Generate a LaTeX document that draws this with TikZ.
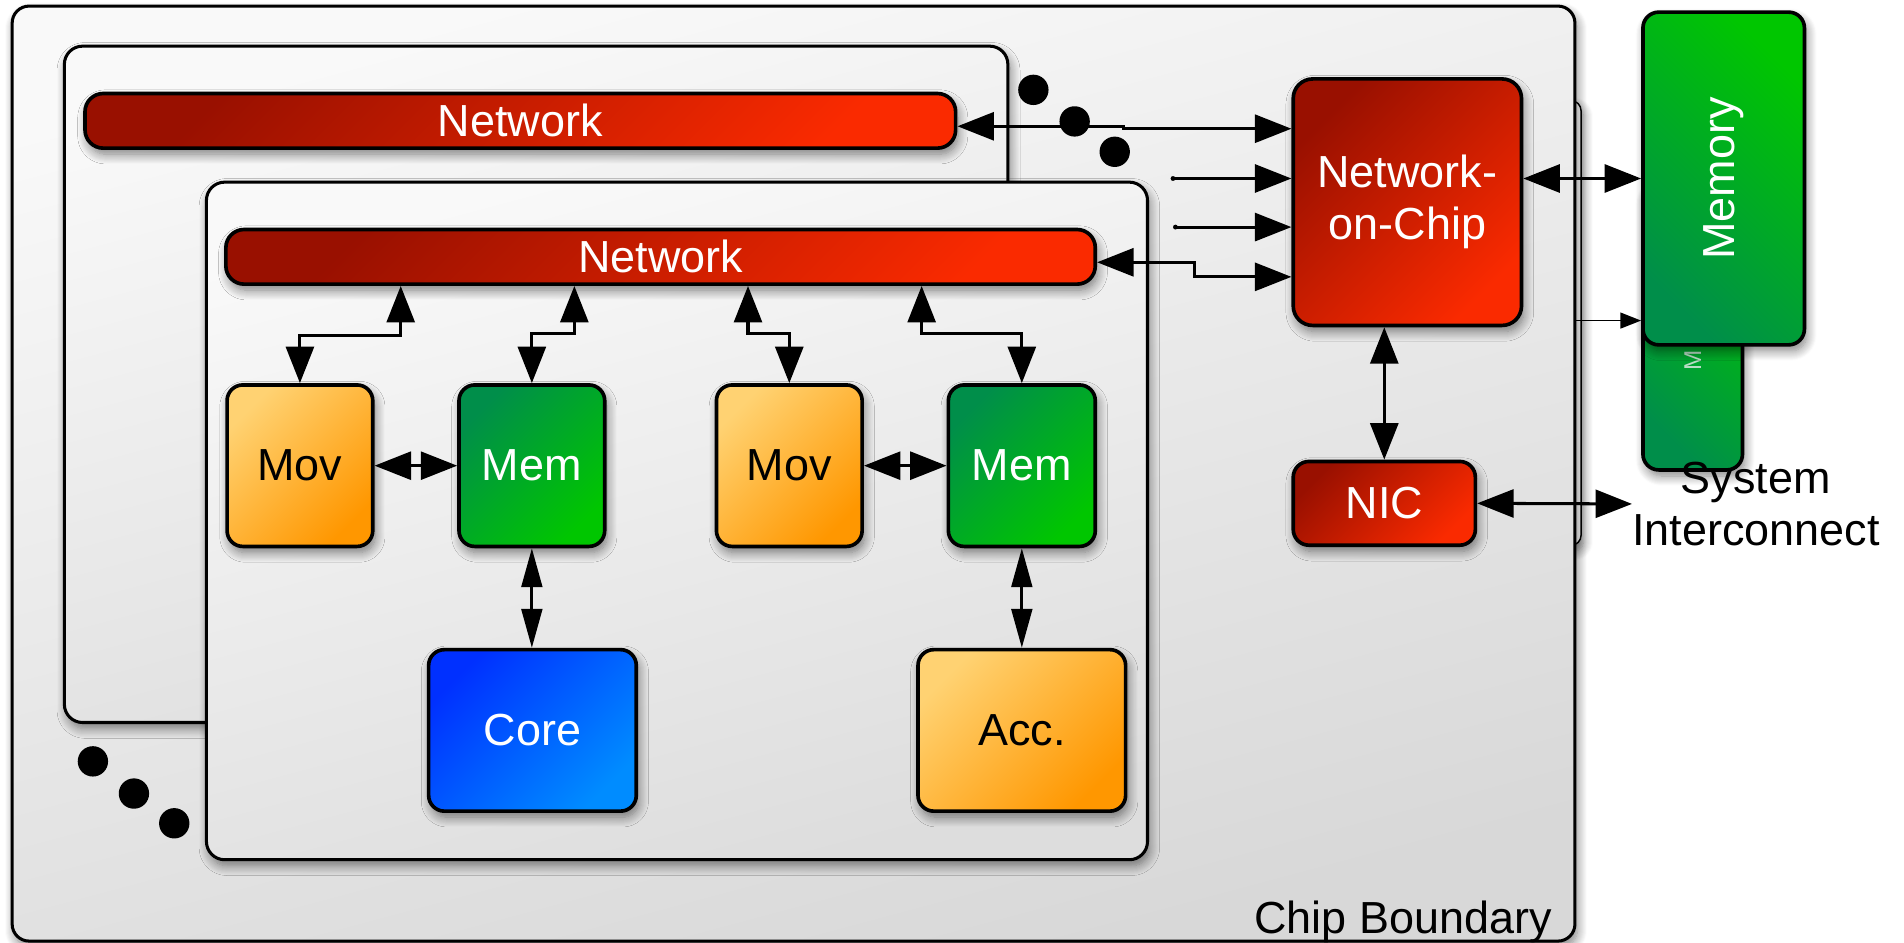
\documentclass[tikz,border=0pt]{standalone}
\usepackage{fontspec}
\setmainfont{Liberation Sans}
\usetikzlibrary{arrows.meta,shadows.blur}
\definecolor{redA}{HTML}{991000}
\definecolor{redB}{HTML}{FA2A00}
\definecolor{orA}{HTML}{FFD272}
\definecolor{orB}{HTML}{FF9700}
\definecolor{grA}{HTML}{008E4A}
\definecolor{grB}{HTML}{00C600}
\definecolor{blA}{HTML}{0030FF}
\definecolor{blB}{HTML}{008CFF}
\definecolor{bgA}{HTML}{F9F9F9}
\definecolor{bgB}{HTML}{D8D8D8}
\definecolor{tlA}{HTML}{F9F9F9}
\definecolor{tlB}{HTML}{DDDDDD}
\definecolor{faintM}{HTML}{B9DCC6}
\tikzset{
  bigtext/.style={font=\fontsize{37}{43}\selectfont},
  shad/.style={blur shadow={shadow xshift=2pt, shadow yshift=-5pt, shadow blur radius=8pt, shadow blur steps=10, shadow opacity=50}},
  blk/.style={draw=black, line width=3pt, rounded corners=13pt, inner sep=0pt, shad, bigtext, align=center},
  redbox/.style={blk, top color=redA, bottom color=redB, shading angle=45, text=white},
  orbox/.style={blk, top color=orA, bottom color=orB, shading angle=45, text=black},
  grbox/.style={blk, top color=grA, bottom color=grB, shading angle=45, text=white},
  memrot/.style={blk, top color=grB, bottom color=grA, shading angle=-45, text=white},
  blbox/.style={blk, top color=blA, bottom color=blB, shading angle=45, text=white},
  tilebox/.style={draw=black, line width=2.5pt, rounded corners=15pt, inner sep=0pt, top color=tlA, bottom color=tlB, shading angle=15, shad},
  dbl/.style={line width=2.5pt, {Triangle[length=30pt,width=23pt]}-{Triangle[length=30pt,width=23pt]}},
  dblv/.style={line width=2.5pt, {Triangle[length=32pt,width=17pt]}-{Triangle[length=32pt,width=17pt]}},
  onearrow/.style={line width=2.5pt, line cap=round, -{Triangle[length=30pt,width=23pt]}},
  thinarrow/.style={line width=1.4pt, -{Triangle[length=17pt,width=13pt]}},
  blackdot/.style={circle, fill=black, minimum size=25pt, inner sep=0pt},
}
\begin{document}
\begin{tikzpicture}[x=1pt,y=-1pt]
\useasboundingbox (0,0) rectangle (1568,776);
% back chip (only its right edge shows)
\node[draw=black, line width=1.2pt, rounded corners=8pt, fill=bgA, shad, minimum width=402pt, minimum height=366pt, inner sep=0pt] (backchip) at (1101,266) {};
% chip boundary
\node[draw=black, line width=2.5pt, rounded corners=14pt, inner sep=0pt, top color=bgA, bottom color=bgB, shading angle=15, shad, minimum width=1287pt, minimum height=770pt] (chip) at (653.5,390) {};
\node[bigtext, anchor=base east, inner sep=0pt] (chiplabel) at (1278,769) {Chip Boundary};
% memories outside the chip
\node[memrot, minimum width=82pt, minimum height=237pt] (memb) at (1394,268.5) {};
\node[font=\fontsize{20}{22}\selectfont, text=faintM, rotate=90, inner sep=0pt] (membl) at (1394,297) {M};
\node[memrot, minimum width=133pt, minimum height=274pt] (memf) at (1419.5,147) {};
\node[bigtext, text=white, rotate=90, inner sep=0pt] (memlabel) at (memf.center) {Memory};
% back tile
\node[tilebox, minimum width=777pt, minimum height=557pt] (backtile) at (441.5,316.5) {};
\node[redbox, minimum width=717pt, minimum height=45pt, rounded corners=15pt] (bar1) at (428.5,99.5) {Network};
% front tile
\node[tilebox, minimum width=775pt, minimum height=558pt] (fronttile) at (557.5,429) {};
\node[redbox, minimum width=716pt, minimum height=45pt, rounded corners=15pt] (bar2) at (544,211.5) {Network};
\node[orbox, minimum width=120pt, minimum height=133pt] (mov1) at (247,383.5) {Mov};
\node[grbox, minimum width=120pt, minimum height=133pt] (mem1) at (438,383.5) {Mem};
\node[orbox, minimum width=120pt, minimum height=133pt] (mov2) at (650,383.5) {Mov};
\node[grbox, minimum width=121pt, minimum height=133pt] (mem2) at (841.5,383.5) {Mem};
\node[blbox, minimum width=171pt, minimum height=133pt] (core) at (438.5,601.5) {Core};
\node[orbox, minimum width=171pt, minimum height=133pt] (acc) at (841.5,601.5) {Acc.};
% network-on-chip and NIC
\node[redbox, minimum width=188pt, minimum height=203pt, rounded corners=16pt] (noc) at (1159,166.5) {Network-\\on-Chip};
\node[redbox, minimum width=150pt, minimum height=69pt] (nic) at (1140,414.5) {NIC};
\node[bigtext, align=center, inner sep=0pt] (sysint) at (1446,415) {System\\Interconnect};
% connectors inside the tile
\draw[dbl] (330,0 |- bar2.south) -- (330,276) -| (mov1.north);
\draw[dbl] (473,0 |- bar2.south) -- (473,275) -| (mem1.north);
\draw[dbl] (616,0 |- bar2.south) -- (616,275) -| (mov2.north);
\draw[dbl] (759,0 |- bar2.south) -- (759,275) -| (mem2.north);
\draw[dbl] (mov1) -- (mem1);
\draw[dbl] (mov2) -- (mem2);
\draw[dblv] (mem1.south) -- (mem1.south |- core.north);
\draw[dblv] (mem2.south) -- (mem2.south |- acc.north);
% connectors to the network-on-chip
\coordinate (in1) at (966,147);
\coordinate (in2) at (968,187);
\draw[dbl] ([yshift=-4.5pt]bar1.east) -- (925,104) -- (925,106) -- (noc.west |- 0,106);
\draw[onearrow] (in1) -- (noc.west |- in1);
\draw[onearrow] (in2) -- (noc.west |- in2);
\fill (in1) circle (2pt);
\fill (in2) circle (2pt);
\draw[dbl] ([yshift=-4.5pt]bar2.east) -- (984,216) -- (984,228) -- (noc.west |- 0,228);
\draw[dbl] (noc.east |- 0,147) -- (memf.west |- 0,147);
\draw[dbl] (nic.north |- noc.south) -- (nic.north);
\draw[dbl] (nic.east) -- (sysint.west);
\draw[thinarrow] (chip.east |- 0,264) -- (memf.west |- 0,264);
% ellipsis dots
\node[blackdot] (d1) at (851,74) {};
\node[blackdot] (d2) at (885,100) {};
\node[blackdot] (d3) at (918,125) {};
\node[blackdot] (d4) at (76.5,627) {};
\node[blackdot] (d5) at (110.3,653.5) {};
\node[blackdot] (d6) at (143.5,678) {};
\end{tikzpicture}
\end{document}
